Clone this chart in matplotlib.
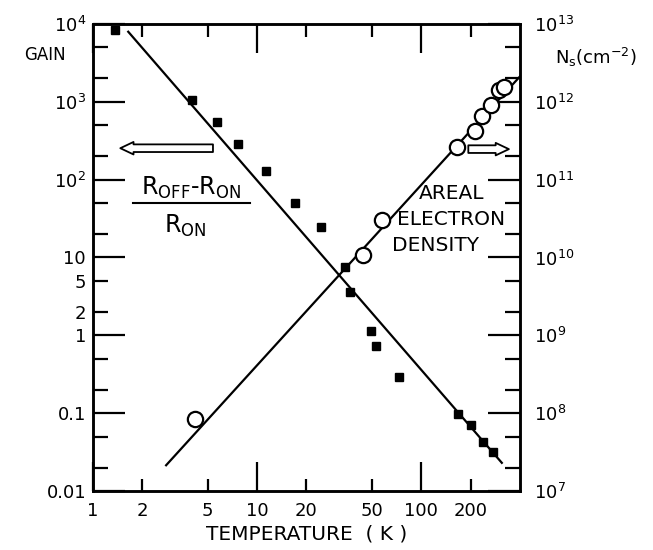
import numpy as np
import matplotlib.pyplot as plt
from matplotlib.ticker import FixedLocator, FixedFormatter, NullFormatter

plt.rcParams['font.family'] = ['DejaVu Sans']
plt.rcParams['mathtext.default'] = 'regular'

# gain (R_OFF - R_ON)/R_ON, filled squares, left axis
gain_T = [1.36, 4.0, 5.7, 7.7, 11.3, 17, 24.5, 34.4, 36.9, 49.3, 53.2, 72.8, 167, 201, 238, 274]
gain = [8400, 1050, 555, 285, 130, 50, 25, 7.6, 3.6, 1.14, 0.73, 0.29, 0.098, 0.07, 0.043, 0.032]
gain_fit_T = [1.64, 310]
gain_fit = [7950, 0.023]

# areal electron density N_s, open circles, right axis
ns_T = [4.19, 44, 57.6, 165, 212, 236, 268, 300, 318]
ns = [8.4e7, 1.07e10, 3.03e10, 2.65e11, 4.2e11, 6.6e11, 9.0e11, 1.42e12, 1.55e12]
ns_fit_T = [2.79, 400]
ns_fit = [2.14e7, 2.12e12]

x_ticks = [1, 10, 100]
x_minor = [2, 5, 20, 50, 200]
x_minor_labels = ['2', '5', '20', '50', '200']

gain_ticks = [0.01, 0.1, 1, 10, 1e2, 1e3, 1e4]
gain_labels = ['0.01', '0.1', '1', '10', '$10^2$', '$10^3$', '$10^4$']
gain_minor = [0.02, 0.05, 0.2, 0.5, 2, 5, 20, 50, 200, 500, 2000, 5000]
gain_minor_labels = ['', '', '', '', '2', '5', '', '', '', '', '', '']

ns_ticks = [1e7, 1e8, 1e9, 1e10, 1e11, 1e12, 1e13]
ns_labels = ['$10^7$', '$10^8$', '$10^9$', '$10^{10}$', '$10^{11}$', '$10^{12}$', '$10^{13}$']
ns_minor = [m * 10.0**e for e in range(7, 13) for m in (2, 5)]

fig = plt.figure(figsize=(6.53, 5.5), dpi=100)
ax = fig.add_axes([0.1424, 0.1073, 0.6539, 0.8491])
ax2 = ax.twinx()

ax.set_xscale('log')
ax.set_yscale('log')
ax2.set_yscale('log')
ax.set_xlim(1, 400)
ax.set_ylim(0.01, 1e4)
ax2.set_ylim(1e7, 1e13)

ax.plot(gain_fit_T, gain_fit, color='black', lw=1.6)
ax.plot(gain_T, gain, 's', color='black', ms=6, clip_on=False)
ax2.plot(ns_fit_T, ns_fit, color='black', lw=1.6)
ax2.plot(ns_T, ns, 'o', mfc='white', mec='black', mew=1.6, ms=11, clip_on=False)

ax.xaxis.set_major_locator(FixedLocator(x_ticks))
ax.xaxis.set_major_formatter(FixedFormatter([str(t) for t in x_ticks]))
ax.xaxis.set_minor_locator(FixedLocator(x_minor))
ax.xaxis.set_minor_formatter(FixedFormatter(x_minor_labels))

ax.yaxis.set_major_locator(FixedLocator(gain_ticks))
ax.yaxis.set_major_formatter(FixedFormatter(gain_labels))
ax.yaxis.set_minor_locator(FixedLocator(gain_minor))
ax.yaxis.set_minor_formatter(FixedFormatter(gain_minor_labels))

ax2.yaxis.set_major_locator(FixedLocator(ns_ticks))
ax2.yaxis.set_major_formatter(FixedFormatter(ns_labels))
ax2.yaxis.set_minor_locator(FixedLocator(ns_minor))
ax2.yaxis.set_minor_formatter(NullFormatter())

ax.tick_params(axis='x', which='both', direction='in', top=True, bottom=True,
               width=1.6, labelsize=13, pad=8)
ax.tick_params(axis='x', which='major', length=21)
ax.tick_params(axis='x', which='minor', length=9)
ax.tick_params(axis='y', which='both', direction='in', left=True, right=False,
               width=1.6, labelsize=13, pad=5)
ax.tick_params(axis='y', which='major', length=23)
ax.tick_params(axis='y', which='minor', length=11)
ax2.tick_params(axis='y', which='both', direction='in', width=1.6, labelsize=13, pad=10)
ax2.tick_params(axis='y', which='major', length=23)
ax2.tick_params(axis='y', which='minor', length=11)

for a in (ax, ax2):
    for s in a.spines.values():
        s.set_linewidth(1.8)

ax.set_xlabel('TEMPERATURE  ( K )', fontsize=14.5, labelpad=3)

fig.text(0.069, 0.900, 'GAIN', fontsize=12, ha='center', va='center')
fig.text(0.913, 0.895, '$N_s(cm^{-2})$', fontsize=13, ha='center', va='center')

# fraction label
ax.text(0.229, 0.648, '$R_{OFF}$-$R_{ON}$', transform=ax.transAxes, fontsize=17,
        ha='center', va='center')
ax.plot([0.094, 0.368], [0.617, 0.617], transform=ax.transAxes, color='black', lw=1.5)
ax.text(0.215, 0.568, '$R_{ON}$', transform=ax.transAxes, fontsize=17,
        ha='center', va='center')

ax.text(0.841, 0.638, 'AREAL', transform=ax.transAxes, fontsize=14.5, ha='center', va='center')
ax.text(0.838, 0.582, 'ELECTRON', transform=ax.transAxes, fontsize=14.5, ha='center', va='center')
ax.text(0.803, 0.525, 'DENSITY', transform=ax.transAxes, fontsize=14.5, ha='center', va='center')

arrow = dict(arrowstyle='simple,head_length=0.95,head_width=0.9,tail_width=0.55',
             fc='white', ec='black', lw=1.3, mutation_scale=10, shrinkA=0, shrinkB=0)
ax.annotate('', xy=(0.064, 0.734), xytext=(0.281, 0.734), xycoords='axes fraction',
            arrowprops=arrow)
ax.annotate('', xy=(0.974, 0.732), xytext=(0.879, 0.732), xycoords='axes fraction',
            arrowprops=arrow)

fig.savefig('out.png', dpi=100)
